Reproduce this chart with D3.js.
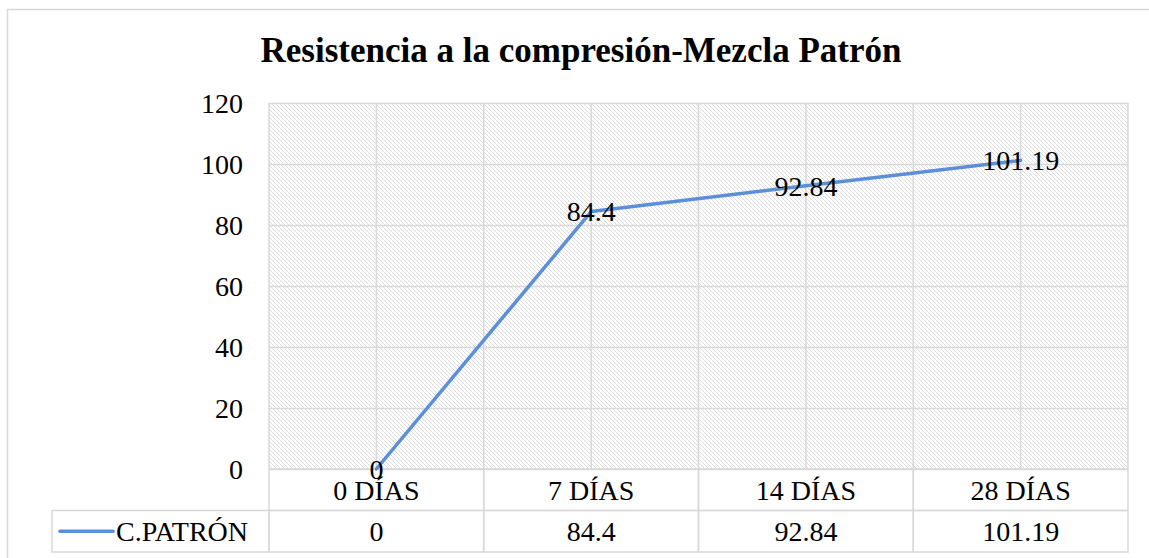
<!DOCTYPE html>
<html>
<head>
<meta charset="utf-8">
<script src="https://cdn.jsdelivr.net/npm/d3@7"></script>
<style>
  body { margin: 0; background: #fff; }
  svg text { font-family: "Liberation Serif", "Times New Roman", Tinos, "DejaVu Serif", serif !important; }
</style>
</head>
<body>
<svg id="chart"></svg>
<script>
var width = 1149;
var height = 558;

// data
var categories = ["0 DÍAS", "7 DÍAS", "14 DÍAS", "28 DÍAS"];
var seriesName = "C.PATRÓN";
var patronValues = [0, 84.4, 92.84, 101.19];
var valueLabels = ["0", "84.4", "92.84", "101.19"];
var yTicks = [0, 20, 40, 60, 80, 100, 120];

// plot area
var plotLeft = 269, plotRight = 1128, plotTop = 103, plotBottom = 469;
var rowH = 41.5;
var legendLeft = 52;
var lineColor = "#5b8fd8";
var gridColor = "#d9d9d9";
var fontSize = 28;

var svg = d3.select("#chart")
    .attr("width", width)
    .attr("height", height);

// hatch pattern for plot background
var defs = svg.append("defs");
var pat = defs.append("pattern")
    .attr("id", "hatch")
    .attr("patternUnits", "userSpaceOnUse")
    .attr("width", 4)
    .attr("height", 4);
pat.append("rect").attr("width", 4).attr("height", 4).attr("fill", "#fff");
pat.append("path")
    .attr("d", "M-1,-1 L5,5 M-1,3 L1,5 M3,-1 L5,1")
    .attr("stroke", "#dcdcdc")
    .attr("stroke-width", 1);

// outer chart border (runs off the right/bottom of the image)
svg.append("rect")
    .attr("x", 7.5).attr("y", 9.5)
    .attr("width", 1160).attr("height", 570)
    .attr("fill", "none")
    .attr("stroke", gridColor)
    .attr("stroke-width", 1.5);

var x = d3.scaleBand()
    .domain(categories)
    .range([plotLeft, plotRight]);

var y = d3.scaleLinear()
    .domain([0, 120])
    .range([plotBottom, plotTop]);

// background
svg.append("rect")
    .attr("x", plotLeft).attr("y", plotTop)
    .attr("width", plotRight - plotLeft).attr("height", plotBottom - plotTop)
    .attr("fill", "url(#hatch)");

// vertical gridlines: category boundaries and centres
var vLines = [];
categories.forEach(function (c) {
    vLines.push(x(c));
    vLines.push(x(c) + x.bandwidth() / 2);
});
vLines.push(plotRight);
svg.append("g")
    .selectAll("line")
    .data(vLines)
    .enter()
    .append("line")
        .attr("x1", d => d).attr("x2", d => d)
        .attr("y1", plotTop).attr("y2", plotBottom)
        .attr("stroke", gridColor)
        .attr("stroke-width", 1.5);

// y axis with horizontal gridlines
var yAxis = d3.axisLeft(y)
    .tickValues(yTicks)
    .tickSize(-(plotRight - plotLeft))
    .tickPadding(26);

var yg = svg.append("g")
    .attr("transform", `translate(${plotLeft},0)`)
    .call(yAxis);
yg.attr("font-family", null);
yg.select(".domain").remove();
yg.selectAll(".tick line")
    .attr("stroke", gridColor)
    .attr("stroke-width", 1.5);
yg.selectAll(".tick text")
    .attr("fill", "#000")
    .attr("dy", "0.35em")
    .style("font-size", fontSize + "px");

// data table
var tableG = svg.append("g");

// category row
categories.forEach(function (c) {
    tableG.append("rect")
        .attr("x", x(c)).attr("y", plotBottom)
        .attr("width", x.bandwidth()).attr("height", rowH)
        .attr("fill", "none").attr("stroke", gridColor).attr("stroke-width", 1.5);
    tableG.append("text")
        .attr("x", x(c) + x.bandwidth() / 2)
        .attr("y", plotBottom + rowH / 2)
        .attr("dy", "0.35em")
        .style("text-anchor", "middle")
        .style("font-size", fontSize + "px")
        .text(c);
});

// value row
var row2 = plotBottom + rowH;
tableG.append("rect")
    .attr("x", legendLeft).attr("y", row2)
    .attr("width", plotLeft - legendLeft).attr("height", rowH)
    .attr("fill", "none").attr("stroke", gridColor).attr("stroke-width", 1.5);
tableG.append("line")
    .attr("x1", 60).attr("x2", 113)
    .attr("y1", row2 + rowH / 2).attr("y2", row2 + rowH / 2)
    .attr("stroke", lineColor)
    .attr("stroke-width", 3.5)
    .attr("stroke-linecap", "round");
tableG.append("text")
    .attr("x", 116)
    .attr("y", row2 + rowH / 2)
    .attr("dy", "0.35em")
    .style("font-size", fontSize + "px")
    .text(seriesName);

categories.forEach(function (c, i) {
    tableG.append("rect")
        .attr("x", x(c)).attr("y", row2)
        .attr("width", x.bandwidth()).attr("height", rowH)
        .attr("fill", "none").attr("stroke", gridColor).attr("stroke-width", 1.5);
    tableG.append("text")
        .attr("x", x(c) + x.bandwidth() / 2)
        .attr("y", row2 + rowH / 2)
        .attr("dy", "0.35em")
        .style("text-anchor", "middle")
        .style("font-size", fontSize + "px")
        .text(valueLabels[i]);
});

// series line
var line = d3.line()
    .x((d, i) => x(categories[i]) + x.bandwidth() / 2)
    .y(d => y(d));

svg.append("path")
    .datum(patronValues)
    .attr("d", line)
    .attr("fill", "none")
    .attr("stroke", lineColor)
    .attr("stroke-width", 3.5)
    .attr("stroke-linejoin", "round")
    .attr("stroke-linecap", "round");

// data labels, centred on the points
svg.append("g")
    .selectAll("text")
    .data(patronValues)
    .enter()
    .append("text")
        .attr("x", (d, i) => x(categories[i]) + x.bandwidth() / 2)
        .attr("y", d => y(d))
        .attr("dy", "0.35em")
        .style("text-anchor", "middle")
        .style("font-size", fontSize + "px")
        .text((d, i) => valueLabels[i]);

// title
svg.append("text")
    .attr("x", 581)
    .attr("y", 62)
    .style("text-anchor", "middle")
    .style("font-size", "35px")
    .style("font-weight", "bold")
    .text("Resistencia a la compresión-Mezcla Patrón");
</script>
</body>
</html>
